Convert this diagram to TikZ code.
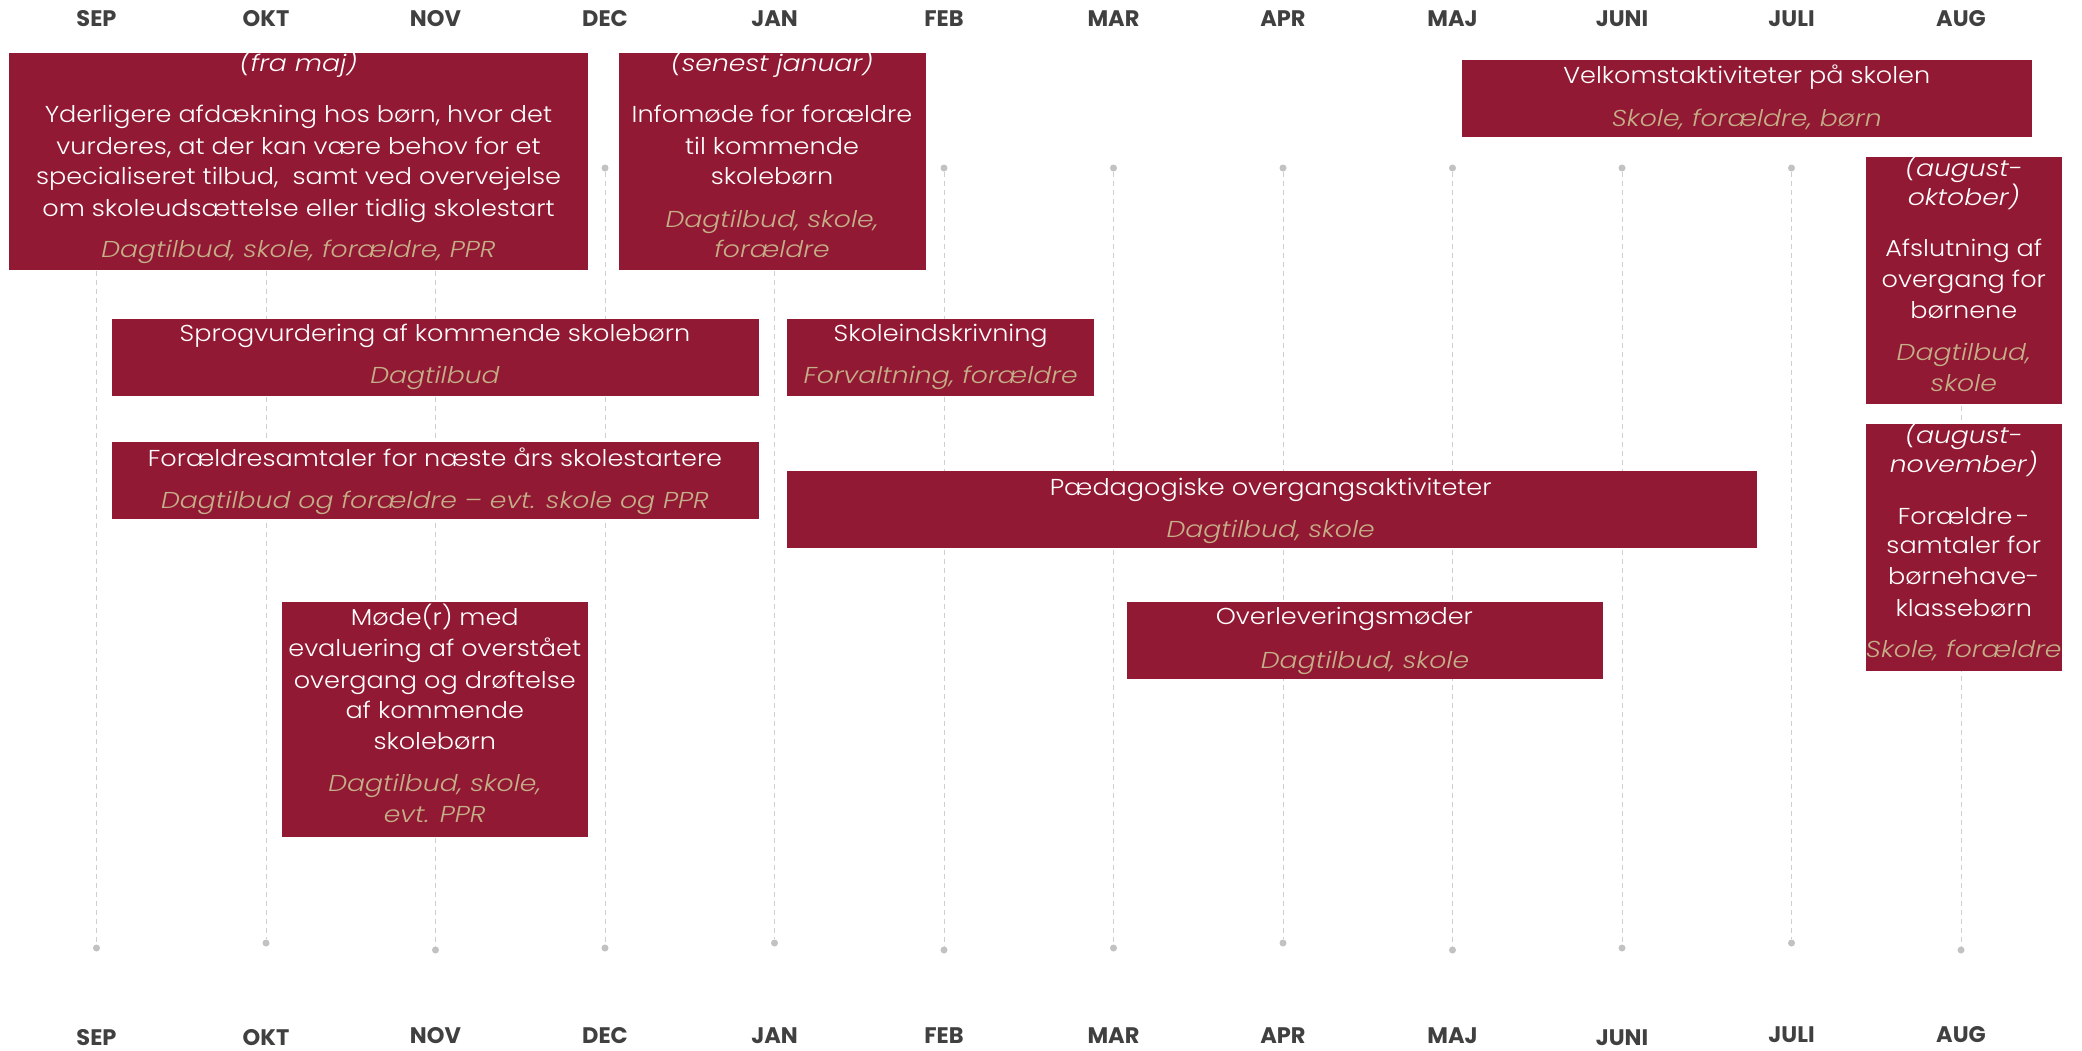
\documentclass[tikz,border=0pt]{standalone}
\usepackage{fontspec}
\setmainfont{Poppins}
\newfontfamily\bodyfont{Poppins Light}[FakeStretch=1.11]
\newfontfamily\itfont{Poppins Light Italic}[FakeStretch=1.16]
\newfontfamily\monthfont{Poppins Bold}
\definecolor{boxred}{HTML}{921933}
\definecolor{tan}{HTML}{C5AF88}
\definecolor{monthgray}{HTML}{404040}
\definecolor{linegray}{HTML}{CFCFCF}
\definecolor{dotgray}{HTML}{C2C2C2}
\tikzset{
  box/.style={fill=boxred, draw=none, inner sep=0pt, rectangle},
  dotnode/.style={circle, fill=dotgray, draw=none, inner sep=0pt, minimum size=7pt},
  mline/.style={draw=linegray, line width=1pt, dash pattern=on 5pt off 4pt},
  month/.style={font=\fontsize{22.5}{26}\monthfont, text=monthgray, inner sep=0pt},
  wtxt/.style={font=\fontsize{23}{27}\bodyfont, text=white, inner sep=0pt, anchor=base},
  witxt/.style={font=\fontsize{23}{27}\itfont, text=white, inner sep=0pt, anchor=base},
  ttxt/.style={font=\fontsize{23}{27}\itfont, text=tan, inner sep=0pt, anchor=base}
}
\newcommand\mkbox[5]{\node[box, minimum width={#4-#2}, minimum height={#5-#3}] (#1) at ({(#2+#4)/2},{(#3+#5)/2}) {};}
\newcommand\wl[4]{\node[wtxt] (#1) at (#2,{#3+8}) {#4};}
\newcommand\wil[4]{\node[witxt] (#1) at (#2,{#3+8}) {#4};}
\newcommand\tl[4]{\node[ttxt] (#1) at (#2,{#3+8}) {#4};}
\begin{document}
\begin{tikzpicture}[x=1pt,y=-1pt]
\useasboundingbox[fill=white] (0,0) rectangle (2082,1050);
% month grid
\foreach \m/\yb/\yd [count=\i from 0] in {SEP/1037.5/948,OKT/1037.5/943,NOV/1035.5/950,DEC/1035.5/948,JAN/1035.5/943,FEB/1035.5/950,MAR/1035.5/948,APR/1035.5/943,MAJ/1035.5/950,JUNI/1037.5/948,JULI/1034.5/943,AUG/1034.5/950}{
  \pgfmathsetmacro\xx{96.5+169.5*\i}
  \node[month] (mt\i) at (\xx,19) {\m};
  \node[month] (mb\i) at (\xx,\yb) {\m};
  \node[dotnode] (dt\i) at (\xx,168) {};
  \node[dotnode] (db\i) at (\xx,\yd) {};
  \draw[mline] (dt\i) -- (db\i);
}
% boxes
\mkbox{bA}{9}{53}{588}{270}
\mkbox{bB}{619}{53}{925.5}{270}
\mkbox{bC}{1462}{60}{2031.5}{137}
\mkbox{bD}{1865.5}{156.5}{2062}{404}
\mkbox{bE}{1865.5}{423.5}{2062}{670.5}
\mkbox{bF}{111.5}{318.5}{758.5}{395.5}
\mkbox{bG}{787.4}{318.5}{1094}{395.5}
\mkbox{bH}{111.5}{442}{758.5}{519}
\mkbox{bI}{787.4}{471.4}{1756.7}{548.4}
\mkbox{bJ}{281.5}{601.5}{588}{836.5}
\mkbox{bK}{1127}{601.5}{1602.7}{678.5}
% box A
\wil{a0}{298.5}{63.7}{(fra maj)}
\wl{a1}{298.5}{114}{Yderligere afdækning hos børn, hvor det}
\wl{a2}{298.5}{146}{vurderes, at der kan være behov for et}
\wl{a3}{298.5}{176.6}{specialiseret tilbud,\ \ samt ved overvejelse}
\wl{a4}{298.5}{208.5}{om skoleudsættelse eller tidlig skolestart}
\tl{a5}{298.5}{249.6}{Dagtilbud, skole, forældre, PPR}
% box B
\wil{b0}{772}{63.7}{(senest januar)}
\wl{b1}{772}{114}{Infomøde for forældre}
\wl{b2}{772}{146}{til kommende}
\wl{b3}{772}{176.6}{skolebørn}
\tl{b4}{772}{219}{Dagtilbud, skole,}
\tl{b5}{772}{249.6}{forældre}
% box C
\wl{c1}{1746.75}{75.7}{Velkomstaktiviteter på skolen}
\tl{c2}{1746.75}{118}{Skole, forældre, børn}
% box D
\wil{d0}{1963.75}{168.6}{(august-}
\wil{d1}{1963.75}{197.8}{oktober)}
\wl{d2}{1963.75}{248}{Afslutning af}
\wl{d3}{1963.75}{279}{overgang for}
\wl{d4}{1963.75}{310.7}{børnene}
\tl{d5}{1963.75}{352}{Dagtilbud,}
\tl{d6}{1963.75}{383.7}{skole}
% box E
\wil{e0}{1963.75}{435.5}{(august-}
\wil{e1}{1963.75}{464.7}{november)}
\wl{e2}{1963.75}{516.5}{Forældre\,-}
\wl{e3}{1963.75}{545.7}{samtaler for}
\wl{e4}{1963.75}{576}{børnehave-}
\wl{e5}{1963.75}{608}{klassebørn}
\tl{e6}{1963.75}{649}{Skole, forældre}
% box F
\wl{f1}{435}{333}{Sprogvurdering af kommende skolebørn}
\tl{f2}{435}{375.8}{Dagtilbud}
% box G
\wl{g1}{940.7}{333}{Skoleindskrivning}
\tl{g2}{940.7}{375.8}{Forvaltning, forældre}
% box H
\wl{h1}{435}{458}{Forældresamtaler for næste års skolestartere}
\tl{h2}{435}{500.6}{Dagtilbud og forældre – evt. skole og PPR}
% box I
\wl{i1}{1270.7}{487.3}{Pædagogiske overgangsaktiviteter}
\tl{i2}{1270.7}{529.8}{Dagtilbud, skole}
% box J
\wl{j1}{434.75}{617.4}{Møde(r) med}
\wl{j2}{434.75}{648}{evaluering af overstået}
\wl{j3}{434.75}{680}{overgang og drøftelse}
\wl{j4}{434.75}{710}{af kommende}
\wl{j5}{434.75}{741}{skolebørn}
\tl{j6}{434.75}{783.4}{Dagtilbud, skole,}
\tl{j7}{434.75}{814}{evt. PPR}
% box K
\wl{k1}{1344.4}{616}{Overleveringsmøder}
\tl{k2}{1365}{660}{Dagtilbud, skole}
\end{tikzpicture}
\end{document}
